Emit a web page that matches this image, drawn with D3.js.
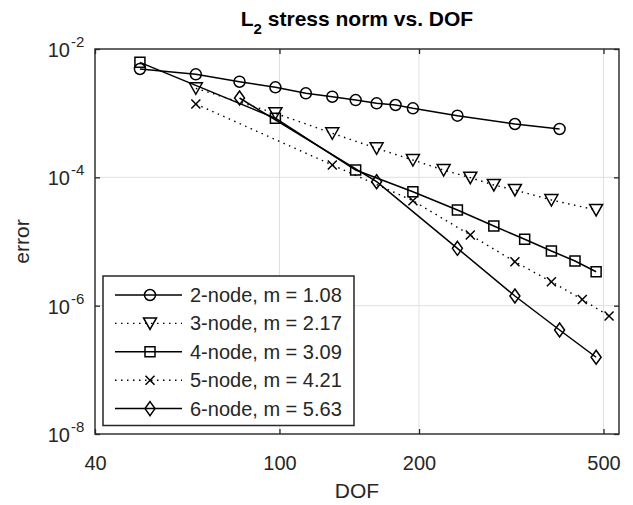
<!DOCTYPE html>
<html>
<head>
<meta charset="utf-8">
<script src="https://cdn.jsdelivr.net/npm/d3@7"></script>
<style>
  body { margin: 0; background: #fff; }
  text { font-family: "Liberation Sans", Arial, Helvetica, sans-serif; fill: #262626; }
</style>
</head>
<body>
<svg id="chart" width="633" height="505"></svg>
<script>
// values
const dof2 = [50, 66, 82, 98, 114, 130, 146, 162, 178, 194, 242, 322, 402];
const err2 = [4.88e-3, 4.03e-3, 3.09e-3, 2.53e-3, 2.04e-3, 1.805e-3, 1.60e-3, 1.425e-3, 1.34e-3, 1.19e-3, 9.13e-4, 6.78e-4, 5.67e-4];
const dof3 = [66, 98, 130, 162, 194, 226, 258, 290, 322, 386, 482];
const err3 = [2.44e-3, 9.95e-4, 4.86e-4, 2.83e-4, 1.86e-4, 1.30e-4, 9.87e-5, 7.60e-5, 6.35e-5, 4.43e-5, 3.10e-5];
const dof4 = [50, 98, 146, 194, 242, 290, 338, 386, 434, 482];
const err4 = [6.2e-3, 8.32e-4, 1.30e-4, 5.97e-5, 3.10e-5, 1.745e-5, 1.083e-5, 7.11e-6, 4.97e-6, 3.38e-6];
const dof5 = [66, 130, 194, 258, 322, 386, 450, 514];
const err5 = [1.39e-3, 1.557e-4, 4.33e-5, 1.262e-5, 4.84e-6, 2.36e-6, 1.248e-6, 6.91e-7];
const dof6 = [82, 162, 242, 322, 402, 482];
const err6 = [1.723e-3, 8.55e-5, 7.83e-6, 1.416e-6, 4.18e-7, 1.57e-7];

const seriesNames = ["2-node, m = 1.08", "3-node, m = 2.17", "4-node, m = 3.09", "5-node, m = 4.21", "6-node, m = 5.63"];
const seriesMarkers = ["circle", "triangle", "square", "cross", "diamond"];
const seriesDotted = [false, true, false, true, false];

const xTicks = [40, 100, 200, 500];
const yTicks = [1e-2, 1e-4, 1e-6, 1e-8];
const xDomain = [40, 540];
const yDomain = [1e-8, 1e-2];

const margin = { top: 49, right: 14, bottom: 71, left: 95 };
const W = 633, H = 505;
const width = W - margin.left - margin.right;
const height = H - margin.top - margin.bottom;
const axisColor = "#262626";

const svg = d3.select("#chart");
const g = svg.append("g").attr("transform", `translate(${margin.left},${margin.top})`);

const x = d3.scaleLog().domain(xDomain).range([0, width]);
const y = d3.scaleLog().domain(yDomain).range([height, 0]);

// grid
g.append("g").selectAll("line").data(xTicks.slice(1)).join("line")
  .attr("x1", d => x(d)).attr("x2", d => x(d))
  .attr("y1", 0).attr("y2", height)
  .attr("stroke", "#e0e0e0").attr("stroke-width", 1);
g.append("g").selectAll("line").data(yTicks.slice(1, -1)).join("line")
  .attr("x1", 0).attr("x2", width)
  .attr("y1", d => y(d)).attr("y2", d => y(d))
  .attr("stroke", "#e0e0e0").attr("stroke-width", 1);

// axes (ticks inward, labels drawn separately)
const tickLen = 5;
g.append("g").attr("transform", `translate(0,${height})`)
  .call(d3.axisBottom(x).tickValues(xTicks).tickSize(-tickLen).tickFormat(d => d))
  .call(a => a.select(".domain").remove())
  .call(a => a.selectAll("line").attr("stroke", axisColor).attr("stroke-width", 1.3))
  .call(a => a.selectAll("text").attr("y", 22).attr("font-size", "20px").attr("fill", axisColor));
g.append("g")
  .call(d3.axisTop(x).tickValues(xTicks).tickSize(-tickLen).tickFormat(""))
  .call(a => a.select(".domain").remove())
  .call(a => a.selectAll("line").attr("stroke", axisColor).attr("stroke-width", 1.3));
g.append("g")
  .call(d3.axisLeft(y).tickValues(yTicks).tickSize(-tickLen).tickFormat(""))
  .call(a => a.select(".domain").remove())
  .call(a => a.selectAll("line").attr("stroke", axisColor).attr("stroke-width", 1.3));
g.append("g").attr("transform", `translate(${width},0)`)
  .call(d3.axisRight(y).tickValues(yTicks).tickSize(-tickLen).tickFormat(""))
  .call(a => a.select(".domain").remove())
  .call(a => a.selectAll("line").attr("stroke", axisColor).attr("stroke-width", 1.3));

// y tick labels 10^n
const yl = g.append("g").selectAll("g").data(yTicks).join("g")
  .attr("transform", d => `translate(-25,${y(d)})`);
yl.append("text").attr("text-anchor", "end").attr("y", 8).attr("font-size", "20px").text("10");
yl.append("text").attr("text-anchor", "start").attr("x", 1).attr("y", -2).attr("font-size", "15px")
  .text(d => String(Math.round(Math.log10(d))));

// series
const line = d3.line().x(d => x(d[0])).y(d => y(d[1]));
const series = [
  d3.zip(dof2, err2), d3.zip(dof3, err3), d3.zip(dof4, err4), d3.zip(dof5, err5), d3.zip(dof6, err6)
];

function markerPath(type) {
  switch (type) {
    case "circle": return "M5.5,0A5.5,5.5 0 1,1 -5.5,0A5.5,5.5 0 1,1 5.5,0Z";
    case "triangle": return "M-6.5,-5.5L6.5,-5.5L0,6Z";
    case "square": return "M-5,-5H5V5H-5Z";
    case "cross": return "M-4.5,-4.5L4.5,4.5M-4.5,4.5L4.5,-4.5";
    case "diamond": return "M0,-7L5,0L0,7L-5,0Z";
  }
}

const plot = g.append("g");
series.forEach((pts, i) => {
  plot.append("path").datum(pts)
    .attr("d", line).attr("fill", "none").attr("stroke", "#000")
    .attr("stroke-width", seriesDotted[i] ? 1.4 : 1.5)
    .attr("stroke-dasharray", seriesDotted[i] ? "1.5,4.5" : null);
  plot.selectAll(null).data(pts).join("path")
    .attr("transform", d => `translate(${x(d[0])},${y(d[1])})`)
    .attr("d", markerPath(seriesMarkers[i]))
    .attr("fill", "none").attr("stroke", "#000").attr("stroke-width", 1.5);
});

// axes box
g.append("rect").attr("width", width).attr("height", height)
  .attr("fill", "none").attr("stroke", axisColor).attr("stroke-width", 1.4);

// legend
const lg = svg.append("g").attr("transform", "translate(103,276)");
lg.append("rect").attr("width", 251).attr("height", 149.5)
  .attr("fill", "#fff").attr("stroke", axisColor).attr("stroke-width", 1.5);
seriesNames.forEach((name, i) => {
  const cy = 19 + i * 28.4;
  lg.append("line").attr("x1", 12).attr("x2", 79).attr("y1", cy).attr("y2", cy)
    .attr("stroke", "#000").attr("stroke-width", seriesDotted[i] ? 1.4 : 1.5)
    .attr("stroke-dasharray", seriesDotted[i] ? "1.5,4.5" : null);
  lg.append("path").attr("transform", `translate(47,${cy})`)
    .attr("d", markerPath(seriesMarkers[i]))
    .attr("fill", "none").attr("stroke", "#000").attr("stroke-width", 1.5);
  lg.append("text").attr("x", 87).attr("y", cy + 7).attr("font-size", "20px").attr("fill", "#000").text(name);
});

// labels
svg.append("text").attr("x", margin.left + width / 2).attr("y", 498)
  .attr("text-anchor", "middle").attr("font-size", "21px").text("DOF");
svg.append("text").attr("transform", `translate(29,${margin.top + height / 2}) rotate(-90)`)
  .attr("text-anchor", "middle").attr("font-size", "21px").text("error");
const title = svg.append("text").attr("x", margin.left + width / 2).attr("y", 26)
  .attr("text-anchor", "middle").attr("font-size", "21px").attr("font-weight", "bold").style("fill", "#000");
title.append("tspan").text("L");
title.append("tspan").attr("font-size", "15px").attr("dy", 8).text("2");
title.append("tspan").attr("dy", -8).text(" stress norm vs. DOF");
</script>
</body>
</html>
